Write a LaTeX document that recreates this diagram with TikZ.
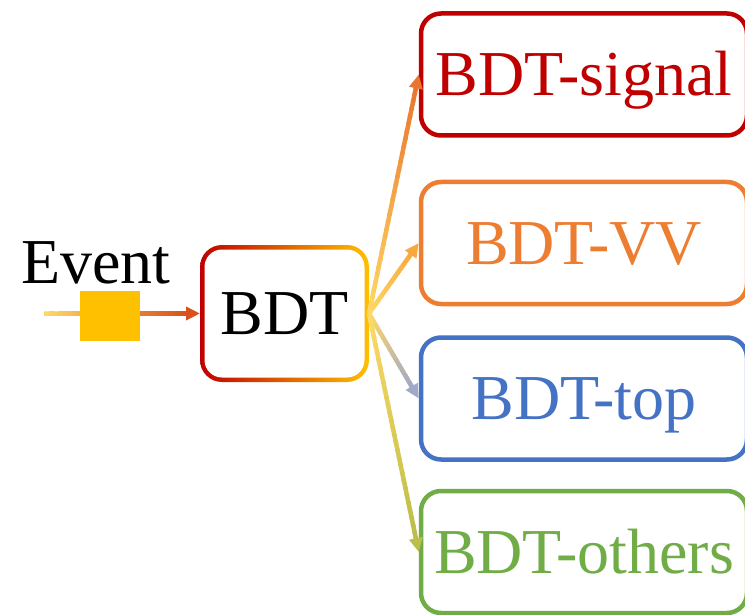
\documentclass[tikz,border=0pt]{standalone}
\usepackage{fontspec}
\setmainfont{Liberation Serif}
\usetikzlibrary{calc,arrows.meta}

\definecolor{cRed}{HTML}{C00000}
\definecolor{cGold}{HTML}{FFC000}
\definecolor{cOrange}{HTML}{ED7D31}
\definecolor{cBlue}{HTML}{4472C4}
\definecolor{cGreen}{HTML}{70AD47}
\definecolor{cPale}{HTML}{FFD966}
\definecolor{cEvEnd}{HTML}{D9501C}
\definecolor{cSigEnd}{HTML}{E8762E}
\definecolor{cVVEnd}{HTML}{F7A83E}
\definecolor{cTopEnd}{HTML}{A2A8C8}
\definecolor{cOthEnd}{HTML}{BBBE48}

% connector whose colour runs from #3 at the start to #4 at the tip
\newcommand\gradconn[4]{%
  \coordinate (gc-a) at (#1);
  \coordinate (gc-b) at (#2);
  \coordinate (gc-h) at ($(gc-b)!13pt!(gc-a)$);
  \foreach \k in {0,...,29}{%
    \pgfmathsetmacro\ga{\k/30}%
    \pgfmathsetmacro\gb{min(1,(\k+1.3)/30)}%
    \pgfmathsetmacro\gp{100*(\k+0.5)/30}%
    \draw[conn, color=#4!\gp!#3] ($(gc-a)!\ga!(gc-h)$) -- ($(gc-a)!\gb!(gc-h)$);
  }%
  \draw[conn, color=#4, -{Triangle[length=14pt,width=13pt]}]
    ($(gc-b)!16pt!(gc-a)$) -- (gc-b);
}

\tikzset{
  bigtext/.style={font=\fontsize{64}{72}\selectfont},
  conn/.style={line width=4.5pt},
  outbox/.style={bigtext, draw, rounded corners=20pt, line width=4.5pt,
    minimum width=326pt, minimum height=122pt, inner sep=0pt,
    text height=42pt, text depth=0pt},
  bdtbox/.style={bigtext, minimum width=169pt, minimum height=137pt,
    inner sep=0pt, outer sep=0pt, text height=42pt, text depth=0pt},
}

\begin{document}
\begin{tikzpicture}[x=1pt,y=-1pt]
\useasboundingbox[fill=white] (0,0) rectangle (745,615);

% central classifier box with a red-to-gold rim
\node[bdtbox] (bdt) at (284.5,313.5) {};
\shade[left color=cRed, right color=cGold, rounded corners=22pt]
  (bdt.north west) rectangle (bdt.south east);
\fill[white, rounded corners=17.5pt]
  ([shift={(4.5,4.5)}]bdt.north west) rectangle ([shift={(-4.5,-4.5)}]bdt.south east);
\node[bdtbox] at (bdt.center) {BDT};

% output classes
\node[outbox, draw=cRed, text=cRed]       (sig) at (584,74.5)  {BDT-signal};
\node[outbox, draw=cOrange, text=cOrange] (vv)  at (584,243)   {BDT-VV};
\node[outbox, draw=cBlue, text=cBlue]     (top) at (584,398.5) {BDT-top};
\node[outbox, draw=cGreen, text=cGreen]   (oth) at (584,552)   {BDT-others};

% input event
\node[bigtext, anchor=base] (evt) at (96,283) {Event};
\coordinate (evin) at (44,313.5);
\gradconn{evin}{bdt.west}{cPale}{cEvEnd}
\node[fill=cGold, minimum width=60pt, minimum height=50pt, inner sep=0pt] (sq) at (110,316) {};

% fan-out to the class scores
\gradconn{bdt.east}{sig.west}{cPale}{cSigEnd}
\gradconn{bdt.east}{vv.west}{cPale}{cVVEnd}
\gradconn{bdt.east}{top.west}{cPale}{cTopEnd}
\gradconn{bdt.east}{oth.west}{cPale}{cOthEnd}
\end{tikzpicture}
\end{document}
